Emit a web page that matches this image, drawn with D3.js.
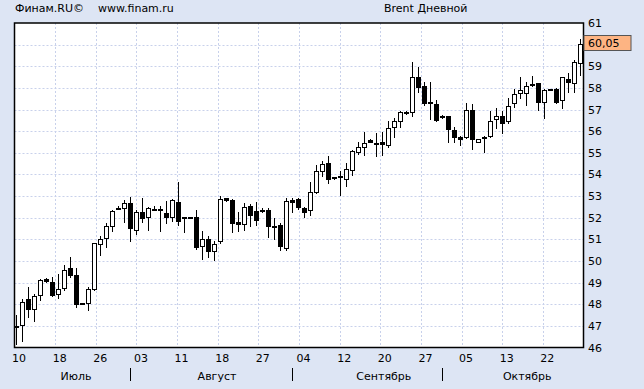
<!DOCTYPE html>
<html>
  <head>
    <title>Brent Дневной</title>
    <meta charset="utf-8" />
    <script src="https://cdn.jsdelivr.net/npm/d3@7"></script>
    <style>
      body {
        margin: 0;
        background: #dde5f4;
      }
      text {
        font-family: "DejaVu Sans", sans-serif;
        font-size: 11px;
        fill: #000;
      }
    </style>
  </head>
  <body>
    <svg id="chart" width="644" height="389"></svg>
  </body>
  <script>
    // daily candles, 10 Jul .. 27 Oct (finam series has sunday bars too)
    var opens = [
      47.0, 47.05, 48.26, 47.79, 48.42, 49.17, 49.03, 48.48, 48.76, 49.68,
      49.36, 48.05, 48.06, 48.71, 50.79, 51.06, 51.63, 52.41, 52.45, 52.68,
      51.42, 52.25, 52.03, 52.4, 52.42, 52.22, 52.02, 52.72, 52.03, 52.04,
      52.03, 50.71, 51.0, 50.45, 50.91, 52.91, 52.83, 51.78, 51.71, 52.55,
      52.32, 52.37, 52.37, 51.63, 51.68, 50.6, 52.83, 52.86, 52.46, 52.37,
      53.19, 54.17, 54.55, 53.88, 53.92, 53.79, 54.19, 55.03, 55.29, 55.6,
      55.46, 55.48, 55.34, 56.17, 56.49, 56.85, 56.88, 58.49, 58.09, 57.33,
      57.26, 56.69, 56.71, 56.06, 55.72, 55.72, 57.0, 55.52, 55.73, 55.79,
      56.56, 56.71, 56.45, 57.29, 57.76, 57.78, 58.19, 58.22, 57.34, 57.95,
      57.94, 57.45, 58.4, 58.22, 59.17,
    ];
    var highs = [
      47.5, 48.26, 48.8, 48.49, 49.17, 49.2, 49.26, 49.41, 49.82, 50.19,
      49.68, 48.06, 48.8, 50.85, 51.17, 51.76, 52.37, 52.52, 52.83, 52.95,
      52.35, 52.9, 52.5, 52.55, 52.55, 52.76, 52.86, 53.65, 52.05, 52.05,
      52.34, 51.37, 51.17, 50.91, 52.98, 52.93, 52.86, 52.26, 52.68, 52.65,
      52.71, 52.45, 52.45, 51.99, 51.76, 52.91, 52.91, 52.89, 52.49, 53.65,
      54.45, 54.63, 54.86, 53.9, 54.17, 54.52, 55.14, 55.48, 55.98, 55.65,
      55.91, 55.94, 56.48, 56.6, 56.94, 56.92, 59.19, 58.96, 58.26, 58.26,
      57.45, 56.75, 56.72, 56.21, 55.79, 57.29, 57.26, 55.66, 55.79, 56.91,
      57.06, 56.91, 57.52, 57.94, 58.49, 58.29, 58.54, 58.24, 57.93, 57.97,
      57.99, 58.52, 58.68, 59.29, 60.25,
    ];
    var lows = [
      46.15, 46.32, 47.42, 47.22, 48.19, 49.05, 48.37, 48.28, 48.65, 49.25,
      47.88, 47.99, 47.72, 48.65, 50.29, 50.63, 51.37, 52.4, 51.78, 50.91,
      51.25, 51.78, 51.45, 52.38, 51.4, 51.76, 51.83, 51.68, 51.33, 52.01,
      50.56, 50.1, 50.19, 50.03, 50.83, 52.79, 51.33, 51.4, 51.45, 51.63,
      51.68, 52.28, 51.09, 51.0, 50.52, 50.52, 52.26, 52.42, 52.03, 52.11,
      53.15, 53.94, 53.6, 53.8, 53.06, 53.45, 53.99, 54.94, 54.91, 55.5,
      54.83, 54.91, 55.25, 55.75, 56.21, 56.8, 56.68, 57.83, 57.22, 56.56,
      56.49, 56.6, 55.52, 55.52, 55.37, 55.68, 55.17, 55.48, 55.06, 55.72,
      56.14, 55.91, 56.4, 57.11, 57.52, 57.22, 58.09, 56.98, 56.6, 57.92,
      57.29, 57.06, 57.83, 57.83, 58.58,
    ];
    var closes = [
      46.98, 48.11, 47.79, 48.39, 49.13, 49.06, 48.42, 48.71, 49.59, 49.34,
      48.0, 48.0, 48.71, 50.83, 51.02, 51.63, 52.29, 52.43, 52.68, 51.53,
      52.26, 51.99, 52.45, 52.38, 52.34, 52.02, 52.83, 51.83, 52.0, 52.02,
      50.63, 51.02, 50.45, 50.79, 52.86, 52.8, 51.76, 51.71, 52.49, 52.14,
      51.91, 52.29, 51.63, 51.55, 50.71, 52.75, 52.72, 52.49, 52.26, 53.19,
      54.17, 54.49, 53.79, 53.82, 53.9, 54.25, 55.09, 55.26, 55.45, 55.52,
      55.44, 55.4, 56.14, 56.45, 56.88, 56.88, 58.49, 58.03, 57.32, 57.31,
      56.52, 56.67, 56.09, 55.72, 55.65, 57.0, 55.63, 55.63, 55.71, 56.49,
      56.68, 56.4, 57.17, 57.72, 57.91, 58.09, 58.18, 57.34, 57.91, 57.94,
      57.34, 58.49, 58.26, 59.19, 60.05,
    ];

    var tickLabels = ["10", "18", "26", "03", "11", "18", "27", "04", "12", "20", "27", "05", "13", "22"];
    var priceTicks = [46, 47, 48, 49, 50, 51, 52, 53, 54, 55, 56, 57, 58, 59, 60, 61];
    var months = ["Июль", "Август", "Сентябрь", "Октябрь"];
    var monthStart = [0, 19, 46, 71]; // index of first bar of month
    var monthLabelAt = [10, 33.5, 61.3, 85.2]; // bar index under month name

    var plotL = 14.5,
      plotR = 583.5,
      plotT = 23,
      plotB = 347.5;

    var svg = d3.select("#chart");

    var x = d3
      .scaleLinear()
      .domain([0, closes.length - 1])
      .range([plotL + 1.5, plotR - 3.5]);
    // grid columns split the plot in 14 equal parts
    var xTick = d3.scaleLinear().domain([0, 14]).range([plotL, plotR]);
    var y = d3.scaleLinear().domain([46, 61]).range([plotB, plotT]);

    var last = closes[closes.length - 1];

    // header
    svg.append("text").attr("x", 15).attr("y", 12).text("Финам.RU©");
    svg.append("text").attr("x", 98).attr("y", 12).text("www.finam.ru");
    svg.append("text").attr("x", 384).attr("y", 12).text("Brent Дневной");

    // plot area
    svg
      .append("rect")
      .attr("x", plotL)
      .attr("y", plotT)
      .attr("width", plotR - plotL)
      .attr("height", plotB - plotT)
      .attr("fill", "#fff");

    var grid = svg.append("g").attr("stroke", "#c8d1eb").attr("stroke-dasharray", "2,2");
    grid
      .selectAll("line.h")
      .data(priceTicks.slice(1, -1))
      .enter()
      .append("line")
      .attr("class", "h")
      .attr("x1", plotL)
      .attr("x2", plotR)
      .attr("y1", function (d) {
        return Math.round(y(d)) + 0.5;
      })
      .attr("y2", function (d) {
        return Math.round(y(d)) + 0.5;
      });
    grid
      .selectAll("line.v")
      .data(tickLabels.slice(1))
      .enter()
      .append("line")
      .attr("class", "v")
      .attr("y1", plotT)
      .attr("y2", plotB)
      .attr("x1", function (d, i) {
        return Math.round(xTick(i + 1)) + 0.5;
      })
      .attr("x2", function (d, i) {
        return Math.round(xTick(i + 1)) + 0.5;
      });

    // candles
    var bars = d3.range(closes.length);
    var candles = svg.append("g");

    candles
      .selectAll("line")
      .data(bars)
      .enter()
      .append("line")
      .attr("x1", function (i) {
        return Math.round(x(i)) + 0.5;
      })
      .attr("x2", function (i) {
        return Math.round(x(i)) + 0.5;
      })
      .attr("y1", function (i) {
        return Math.round(y(highs[i]));
      })
      .attr("y2", function (i) {
        return Math.round(y(lows[i])) + 1;
      })
      .attr("stroke", "#000");

    candles
      .selectAll("rect")
      .data(bars)
      .enter()
      .append("rect")
      .attr("x", function (i) {
        return Math.round(x(i)) - 1.5;
      })
      .attr("y", function (i) {
        return Math.round(y(Math.max(opens[i], closes[i]))) + 0.5;
      })
      .attr("width", 4)
      .attr("height", function (i) {
        var h =
          Math.round(y(Math.min(opens[i], closes[i]))) -
          Math.round(y(Math.max(opens[i], closes[i])));
        return Math.max(h, 1);
      })
      .attr("fill", function (i) {
        return closes[i] < opens[i] ? "#000" : "#fff";
      })
      .attr("stroke", "#000");

    // border
    svg
      .append("rect")
      .attr("x", plotL)
      .attr("y", plotT)
      .attr("width", plotR - plotL)
      .attr("height", plotB - plotT)
      .attr("fill", "none")
      .attr("stroke", "#000")
      .attr("stroke-width", 1.5);

    // price axis (the label under the last-price box is hidden)
    svg
      .selectAll("text.price")
      .data(
        priceTicks.filter(function (d) {
          return Math.abs(y(d) - y(last)) > 10;
        })
      )
      .enter()
      .append("text")
      .attr("class", "price")
      .attr("x", plotR + 4.5)
      .attr("y", function (d) {
        return y(d) + 4;
      })
      .text(function (d) {
        return d;
      });

    // last price box
    svg
      .append("rect")
      .attr("x", plotR + 0.5)
      .attr("y", Math.round(y(last)) - 8.5)
      .attr("width", 47)
      .attr("height", 15)
      .attr("fill", "#fdb483")
      .attr("stroke", "#555");
    svg
      .append("text")
      .attr("x", plotR + 4.5)
      .attr("y", y(last) + 3)
      .text(d3.format(".2f")(last).replace(".", ","));

    // date axis
    svg
      .selectAll("text.day")
      .data(tickLabels)
      .enter()
      .append("text")
      .attr("class", "day")
      .attr("x", function (d, i) {
        return xTick(i) - 2.5;
      })
      .attr("y", 362)
      .text(function (d) {
        return d;
      });

    svg
      .selectAll("line.sep")
      .data(monthStart.slice(1))
      .enter()
      .append("line")
      .attr("class", "sep")
      .attr("x1", function (d) {
        return Math.round(x(d)) + 0.5;
      })
      .attr("x2", function (d) {
        return Math.round(x(d)) + 0.5;
      })
      .attr("y1", 368)
      .attr("y2", 381)
      .attr("stroke", "#000");

    svg
      .selectAll("text.month")
      .data(months)
      .enter()
      .append("text")
      .attr("class", "month")
      .attr("x", function (d, i) {
        return x(monthLabelAt[i]);
      })
      .attr("y", 380)
      .attr("text-anchor", "middle")
      .text(function (d) {
        return d;
      });
  </script>
</html>
